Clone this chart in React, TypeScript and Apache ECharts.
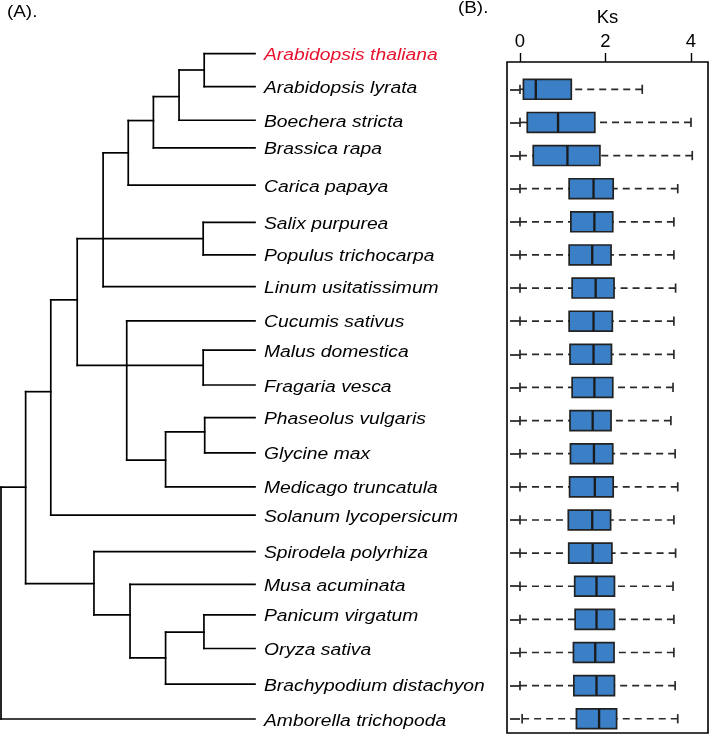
import React, { useEffect, useRef } from "react";
import * as echarts from "echarts";

// ---- Species (tree leaves, top to bottom) ----
const species = [
  "Arabidopsis thaliana",
  "Arabidopsis lyrata",
  "Boechera stricta",
  "Brassica rapa",
  "Carica papaya",
  "Salix purpurea",
  "Populus trichocarpa",
  "Linum usitatissimum",
  "Cucumis sativus",
  "Malus domestica",
  "Fragaria vesca",
  "Phaseolus vulgaris",
  "Glycine max",
  "Medicago truncatula",
  "Solanum lycopersicum",
  "Spirodela polyrhiza",
  "Musa acuminata",
  "Panicum virgatum",
  "Oryza sativa",
  "Brachypodium distachyon",
  "Amborella trichopoda",
];
const highlighted = "Arabidopsis thaliana";

// leaf vertical positions (row units) and their parent nodes
const leafRow = [0, 0.99, 2.0, 2.83, 3.95, 5.07, 6.05, 7.0, 8.03, 8.91, 9.96, 10.94, 12.0, 13.02, 13.87, 14.97, 15.95, 16.87, 17.88, 18.95, 20];
const leafParent = ["I", "I", "H", "G", "F", "SP", "SP", "D", "E", "MF", "MF", "PG", "PG", "L", "B", "M", "N", "P", "P", "O", "root"];
const leafDepth = 10;

// internal nodes of the cladogram
const nodeKeys = ["root", "A", "B", "C", "D", "E", "F", "G", "H", "I", "SP", "MF", "L", "PG", "M", "N", "O", "P"];
const nodeParent = [null, "root", "A", "B", "C", "C", "D", "F", "G", "H", "D", "E", "E", "L", "A", "M", "N", "O"];
const nodeDepth = [0, 0.97, 1.96, 3.0, 4.02, 4.95, 5.01, 6.0, 7.01, 8.0, 7.96, 7.96, 6.48, 8.02, 3.66, 5.08, 6.48, 7.99];
const nodeRow = [16.5, 13.03, 10.16, 7.4, 5.56, 9.37, 2.98, 2.01, 1.29, 0.49, 5.56, 9.37, 12.22, 11.37, 15.93, 16.87, 18.16, 17.39];

// ---- Ks boxplots (rows 1..20 = species[1..20]) ----
const boxSpecies = species.slice(1);
const ksLow = [0, 0, 0, 0, 0, 0, 0, 0, 0, 0, 0, 0, 0, 0, 0, 0, 0, 0, 0, 0.05];
const ksQ1 = [0.08, 0.17, 0.31, 1.15, 1.19, 1.15, 1.22, 1.15, 1.17, 1.22, 1.17, 1.18, 1.16, 1.13, 1.14, 1.28, 1.29, 1.25, 1.26, 1.32];
const ksMedian = [0.37, 0.89, 1.11, 1.72, 1.74, 1.69, 1.77, 1.72, 1.72, 1.74, 1.7, 1.73, 1.75, 1.69, 1.7, 1.79, 1.79, 1.76, 1.79, 1.85];
const ksQ3 = [1.2, 1.75, 1.87, 2.18, 2.17, 2.13, 2.2, 2.16, 2.14, 2.17, 2.13, 2.17, 2.18, 2.12, 2.15, 2.21, 2.21, 2.2, 2.21, 2.26];
const ksHigh = [2.86, 4.0, 4.03, 3.69, 3.6, 3.6, 3.64, 3.6, 3.6, 3.58, 3.53, 3.63, 3.69, 3.6, 3.64, 3.58, 3.6, 3.6, 3.63, 3.69];
const ksTicks = [0, 2, 4];

const FONT = '"Liberation Sans", Arial, Helvetica, sans-serif';

function buildTreeData() {
  const depthOf: Record<string, number> = {};
  nodeKeys.forEach((k, i) => (depthOf[k] = nodeDepth[i]));
  const childRows: Record<string, number[]> = {};
  nodeKeys.forEach((k) => (childRows[k] = []));
  nodeKeys.forEach((k, i) => {
    const p = nodeParent[i];
    if (p) childRows[p].push(nodeRow[i]);
  });
  leafParent.forEach((p, i) => childRows[p].push(leafRow[i]));
  const data: number[][] = [];
  nodeKeys.forEach((k, i) => {
    const p = nodeParent[i];
    const rows = childRows[k];
    data.push([nodeDepth[i], nodeRow[i], p ? depthOf[p] : -1, Math.min(...rows), Math.max(...rows), -1]);
  });
  species.forEach((s, i) => {
    data.push([leafDepth, leafRow[i], depthOf[leafParent[i]], 0, 0, i]);
  });
  return data;
}

export default function App() {
  const ref = useRef<HTMLDivElement>(null);
  useEffect(() => {
    if (!ref.current) return;
    const chart = echarts.init(ref.current, null, { renderer: "svg" });
    const treeData = buildTreeData();
    const boxData = boxSpecies.map((_, i) => [i + 1, ksLow[i], ksQ1[i], ksMedian[i], ksQ3[i], ksHigh[i]]);
    const boxRows = boxSpecies.map((_, i) => i + 1);

    const headStyle = { fontSize: 16, fontFamily: FONT, fill: "#000", verticalAlign: "top", align: "left" };
    const option: any = {
      animation: false,
      textStyle: { fontFamily: FONT },
      graphic: [
        { type: "text", x: 7, y: 4, scaleX: 1.18, style: { ...headStyle, text: "(A)." } },
        { type: "text", x: 458, y: 0, scaleX: 1.18, style: { ...headStyle, text: "(B)." } },
      ],
      grid: [
        { left: 1, top: 53.7, width: 254, height: 665.3 },
        { left: 507, top: 62, width: 201, height: 671, show: true, borderColor: "#000", borderWidth: 1.6, backgroundColor: "transparent" },
      ],
      xAxis: [
        { type: "value", gridIndex: 0, min: 0, max: 10, show: false },
        {
          type: "value",
          gridIndex: 1,
          position: "top",
          min: -0.304,
          max: 4.398,
          axisLine: { show: false },
          axisTick: { show: true, customValues: ksTicks, length: 9, lineStyle: { color: "#000", width: 1.4 } },
          axisLabel: { show: true, customValues: ksTicks, fontSize: 18.5, color: "#000", margin: 12, fontFamily: FONT },
          splitLine: { show: false },
          name: "Ks",
          nameLocation: "middle",
          nameGap: 33,
          nameTextStyle: { fontSize: 18.5, color: "#000", fontFamily: FONT },
        },
      ],
      yAxis: [
        { type: "value", gridIndex: 0, min: 0, max: 20, inverse: true, show: false },
        {
          type: "value",
          gridIndex: 1,
          min: 0.176,
          max: 20.43,
          inverse: true,
          axisLine: { show: false },
          axisTick: { show: true, customValues: boxRows, length: 10, lineStyle: { color: "#000", width: 1.5 } },
          axisLabel: { show: false },
          splitLine: { show: false },
        },
      ],
      series: [
        {
          type: "custom",
          xAxisIndex: 0,
          yAxisIndex: 0,
          clip: false,
          data: treeData,
          renderItem: (params: any, api: any) => {
            const d = api.value(0);
            const r = api.value(1);
            const pd = api.value(2);
            const vmin = api.value(3);
            const vmax = api.value(4);
            const li = api.value(5);
            const p = api.coord([d, r]);
            const lineStyle = { stroke: "#000", lineWidth: 1.7, lineCap: "square" };
            const children: any[] = [];
            if (pd >= 0) {
              const pp = api.coord([pd, r]);
              children.push({ type: "line", shape: { x1: pp[0], y1: p[1], x2: p[0], y2: p[1] }, style: lineStyle });
            }
            if (vmax > vmin) {
              const a = api.coord([d, vmin]);
              const b = api.coord([d, vmax]);
              children.push({ type: "line", shape: { x1: a[0], y1: a[1], x2: b[0], y2: b[1] }, style: lineStyle });
            }
            if (li >= 0) {
              const name = species[li];
              children.push({
                type: "text",
                x: p[0] + 9,
                y: p[1] + 1,
                scaleX: 1.17,
                style: {
                  text: name,
                  fontSize: 16.5,
                  fontStyle: "italic",
                  fontFamily: FONT,
                  fill: name === highlighted ? "#e8112d" : "#000",
                  verticalAlign: "middle",
                  align: "left",
                },
              });
            }
            return { type: "group", children };
          },
        },
        {
          type: "custom",
          xAxisIndex: 1,
          yAxisIndex: 1,
          clip: false,
          data: boxData,
          renderItem: (params: any, api: any) => {
            const k = api.value(0);
            const lo = api.coord([api.value(1), k]);
            const q1 = api.coord([api.value(2), k]);
            const md = api.coord([api.value(3), k]);
            const q3 = api.coord([api.value(4), k]);
            const hi = api.coord([api.value(5), k]);
            const band = Math.abs(api.size([0, 1])[1]);
            const boxH = band * 0.6;
            const capH = band * 0.28;
            const y = lo[1];
            const dash = { stroke: "#2a2a2a", lineWidth: 1.7, lineDash: [7, 5] };
            const solid = { stroke: "#2a2a2a", lineWidth: 1.7 };
            return {
              type: "group",
              children: [
                { type: "line", shape: { x1: lo[0], y1: y, x2: q1[0], y2: y }, style: dash },
                { type: "line", shape: { x1: hi[0], y1: y, x2: q3[0], y2: y }, style: dash },
                { type: "line", shape: { x1: lo[0], y1: y - capH / 2, x2: lo[0], y2: y + capH / 2 }, style: solid },
                { type: "line", shape: { x1: hi[0], y1: y - capH / 2, x2: hi[0], y2: y + capH / 2 }, style: solid },
                {
                  type: "rect",
                  shape: { x: q1[0], y: y - boxH / 2, width: q3[0] - q1[0], height: boxH },
                  style: { fill: "#3b7fc6", stroke: "#222", lineWidth: 1.7 },
                },
                { type: "line", shape: { x1: md[0], y1: y - boxH / 2, x2: md[0], y2: y + boxH / 2 }, style: { stroke: "#1a1a1a", lineWidth: 2.3 } },
              ],
            };
          },
        },
      ],
    };
    chart.setOption(option);
    return () => chart.dispose();
  }, []);
  return <div ref={ref} style={{ position: "fixed", left: 0, top: 0, width: 710, height: 734 }} />;
}
